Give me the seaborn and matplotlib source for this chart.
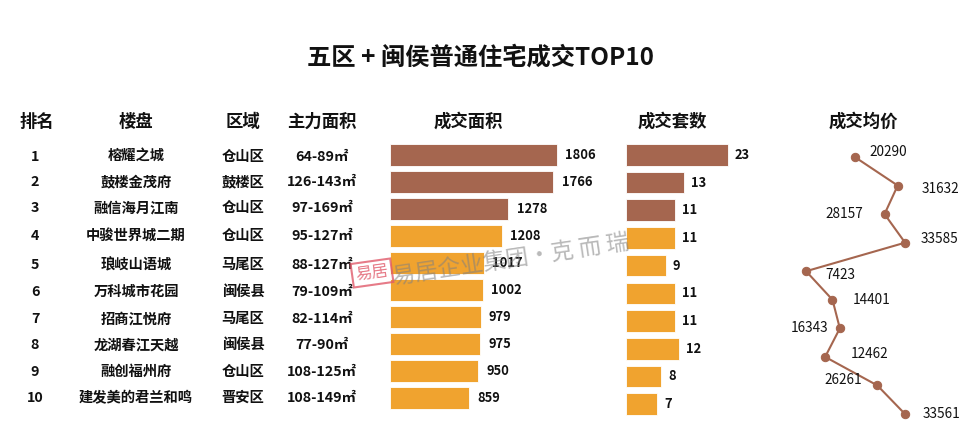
import matplotlib
matplotlib.use("Agg")
import matplotlib.pyplot as plt
import seaborn as sns
import pandas as pd

sns.set_theme(style="white")
plt.rcParams['font.family'] = ['Noto Sans CJK SC', 'DejaVu Sans']

# ---------------- data ----------------
ranks = ["1", "2", "3", "4", "5", "6", "7", "8", "9", "10"]
projects = ["榕耀之城", "鼓楼金茂府", "融信海月江南", "中骏世界城二期", "琅岐山语城",
            "万科城市花园", "招商江悦府", "龙湖春江天越", "融创福州府", "建发美的君兰和鸣"]
districts = ["仓山区", "鼓楼区", "仓山区", "仓山区", "马尾区",
             "闽侯县", "马尾区", "闽侯县", "仓山区", "晋安区"]
main_sizes = ["64-89㎡", "126-143㎡", "97-169㎡", "95-127㎡", "88-127㎡",
              "79-109㎡", "82-114㎡", "77-90㎡", "108-125㎡", "108-149㎡"]
deal_area = [1806, 1766, 1278, 1208, 1017, 1002, 979, 975, 950, 859]
deal_units = [23, 13, 11, 11, 9, 11, 11, 12, 8, 7]
avg_price = [20290, 31632, 28157, 33585, 7423, 14401, 16343, 12462, 26261, 33561]
headers = ["排名", "楼盘", "区域", "主力面积", "成交面积", "成交套数", "成交均价"]
title = "五区 + 闽侯普通住宅成交TOP10"

BROWN = "#A5664F"
ORANGE = "#F0A32F"
bar_colors = [BROWN] * 3 + [ORANGE] * 7

W, H = 972, 448
fig = plt.figure(figsize=(W / 100, H / 100), dpi=100)
fig.patch.set_facecolor("white")


def fx(px):
    return px / W


def fy(py):
    return 1 - py / H


def add_ax(left, right, top, bottom):
    return fig.add_axes([fx(left), fy(bottom), fx(right - left), (bottom - top) / H])


# ---------------- title & headers ----------------
fig.text(fx(480), fy(58), title, ha="center", va="center", fontsize=17.5,
         fontweight="bold", color="#111111")
header_x = [37, 136, 243, 322, 468, 672, 863]
for hx, h in zip(header_x, headers):
    fig.text(fx(hx), fy(122), h, ha="center", va="center", fontsize=12.5,
             fontweight="bold", color="#111111")

# ---------------- table text ----------------
row_y = [157, 182, 208, 236, 265, 292, 319, 345, 372, 398]
for i in range(10):
    y = fy(row_y[i])
    kw = dict(ha="center", va="center", fontsize=10.3, fontweight="bold", color="#111111")
    fig.text(fx(35), y, ranks[i], **kw)
    fig.text(fx(136), y, projects[i], **kw)
    fig.text(fx(243), y, districts[i], **kw)
    fig.text(fx(322), y, main_sizes[i], **kw)

# ---------------- area bars ----------------
df = pd.DataFrame({"project": projects, "area": deal_area, "units": deal_units,
                   "price": avg_price, "idx": list(range(10))})

ax1 = add_ax(390, 590, 141.5, 411.5)
sns.barplot(data=df, x="area", y="project", hue="project", palette=bar_colors,
            legend=False, width=0.78, ax=ax1, orient="h", saturation=1,
            edgecolor="white", linewidth=0.6)
ax1.set_xlim(0, 200 / 0.0925)
for c in ax1.containers:
    ax1.bar_label(c, padding=6, fontsize=9.3, fontweight="bold", color="#111111")
ax1.axis("off")

# ---------------- units bars ----------------
ax2 = add_ax(626, 756, 141, 418)
sns.barplot(data=df, x="units", y="project", hue="project", palette=bar_colors,
            legend=False, width=0.78, ax=ax2, orient="h", saturation=1,
            edgecolor="white", linewidth=0.6)
ax2.set_xlim(0, 130 / 4.43)
for c in ax2.containers:
    ax2.bar_label(c, padding=5, fontsize=9.3, fontweight="bold", color="#111111")
ax2.axis("off")

# ---------------- price line ----------------
ax3 = add_ax(778, 968, 142.7, 428.3)
sns.lineplot(data=df, x="price", y="idx", sort=False, estimator=None, ax=ax3,
             color=BROWN, linewidth=1.5, marker="o", markersize=6,
             markeredgecolor=BROWN, markerfacecolor=BROWN)
ax3.set_xlim(0, 190 / 0.003784)
ax3.set_ylim(9.5, -0.5)
label_offsets = [(15, 5, "left"), (24, -3, "left"), (-21, 0, "right"), (16, 4, "left"),
                 (19, -4, "left"), (20, 0, "left"), (-11, 0, "right"), (26, 3, "left"),
                 (-15, 5, "right"), (18, 0, "left")]
for i in range(10):
    dx, dy, ha = label_offsets[i]
    ax3.annotate(str(avg_price[i]), (avg_price[i], i), xytext=(dx * 0.72, dy * 0.72),
                 textcoords="offset points", ha=ha, va="center", fontsize=9.8, color="#111111")
ax3.axis("off")

# ---------------- watermark ----------------
fig.text(fx(372), fy(273), "易居", ha="center", va="center", fontsize=12, color="#E05A6A",
         rotation=8, alpha=0.8,
         bbox=dict(boxstyle="square,pad=0.2", fc="none", ec="#E05A6A", lw=1.5, alpha=0.8))
fig.text(fx(394), fy(284), "易居企业集团·克 而 瑞", ha="left", va="baseline", fontsize=16.5,
         color="#808080", rotation=8.5, alpha=0.55, rotation_mode="anchor")

fig.savefig("out.png", dpi=100, facecolor="white")
